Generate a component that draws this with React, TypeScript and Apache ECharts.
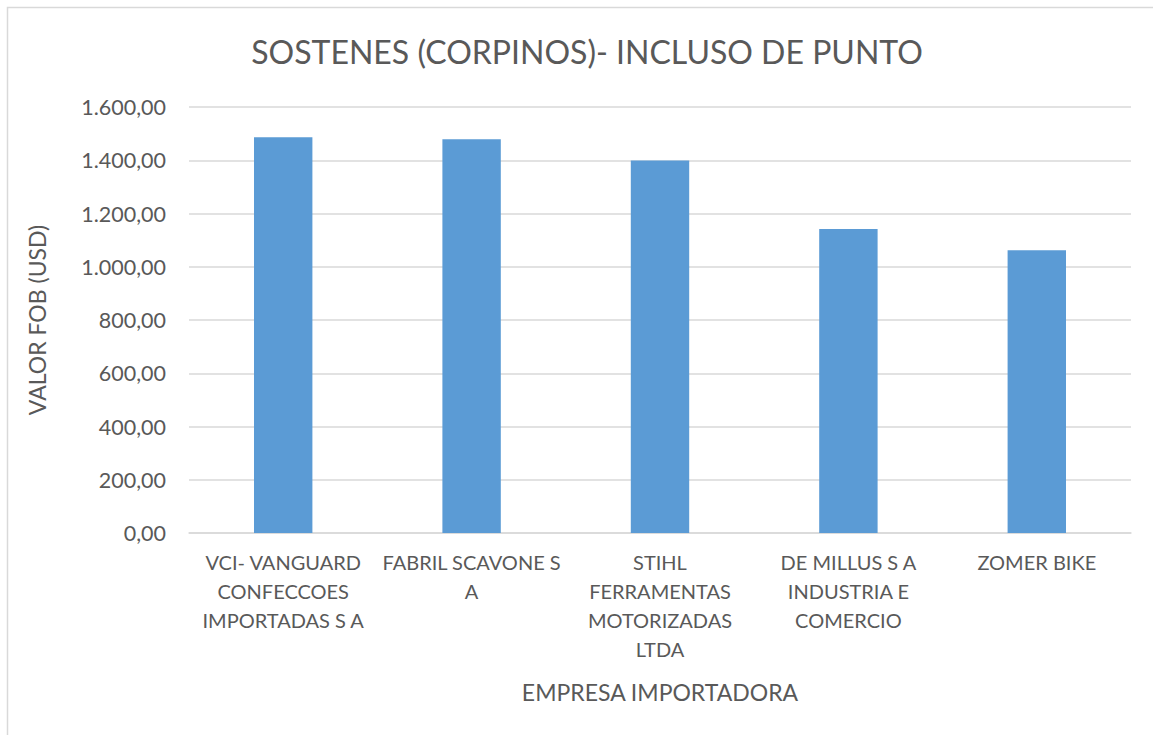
import React, { useEffect, useRef } from "react";
import * as echarts from "echarts";

const title = "SOSTENES (CORPINOS)- INCLUSO DE PUNTO";
const categories = [
  "VCI- VANGUARD\nCONFECCOES\nIMPORTADAS S A",
  "FABRIL SCAVONE S\nA",
  "STIHL\nFERRAMENTAS\nMOTORIZADAS\nLTDA",
  "DE MILLUS S A\nINDUSTRIA E\nCOMERCIO",
  "ZOMER BIKE",
];
const values = [1486, 1479, 1399, 1142, 1062];
const yAxisName = "VALOR FOB (USD)";
const xAxisName = "EMPRESA IMPORTADORA";

function fmt(v: number): string {
  const fixed = v.toFixed(2);
  const [intPart, dec] = fixed.split(".");
  const withDots = intPart.replace(/\B(?=(\d{3})+(?!\d))/g, ".");
  return withDots + "," + dec;
}

export default function App() {
  const ref = useRef<HTMLDivElement>(null);
  useEffect(() => {
    if (!ref.current) return;
    const chart = echarts.init(ref.current, undefined, { renderer: "svg" });
    const font = "Lato";
    const txt = "#595959";
    chart.setOption({
      animation: false,
      backgroundColor: "#ffffff",
      textStyle: { fontFamily: font },
      title: {
        text: title,
        left: 582,
        textAlign: "center",
        top: 30,
        textStyle: { fontFamily: font, fontSize: 32, fontWeight: "normal", color: txt },
      },
      graphic: [
        {
          type: "rect",
          shape: { x: 7.5, y: 7.5, width: 1200, height: 800 },
          style: { fill: "none", stroke: "#d9d9d9", lineWidth: 1.5 },
          silent: true,
        },
      ],
      grid: { left: 189, right: 22, top: 107, bottom: 202, containLabel: false },
      xAxis: {
        type: "category",
        data: categories,
        name: xAxisName,
        nameLocation: "middle",
        nameGap: 147,
        nameTextStyle: { fontFamily: font, fontSize: 23, color: txt },
        axisLine: { show: true, lineStyle: { color: "#d9d9d9", width: 1.5 } },
        axisTick: { show: false },
        axisLabel: {
          interval: 0,
          fontFamily: font,
          fontSize: 20,
          lineHeight: 29,
          color: txt,
          margin: 14,
          align: "center",
        },
      },
      yAxis: {
        type: "value",
        min: 0,
        max: 1600,
        interval: 200,
        name: yAxisName,
        nameLocation: "middle",
        nameGap: 141,
        nameTextStyle: { fontFamily: font, fontSize: 23, color: txt },
        axisLine: { show: false },
        axisTick: { show: false },
        splitLine: { lineStyle: { color: "#d9d9d9", width: 1.5 } },
        axisLabel: {
          fontFamily: font,
          fontSize: 21.5,
          color: txt,
          margin: 23,
          formatter: (v: number) => fmt(v),
        },
      },
      series: [
        {
          type: "bar",
          data: values,
          barWidth: "31%",
          itemStyle: { color: "#5b9bd5" },
        },
      ],
    });
    return () => chart.dispose();
  }, []);
  return (
    <div
      ref={ref}
      style={{ position: "fixed", left: 0, top: 0, width: 1153, height: 735 }}
    />
  );
}
